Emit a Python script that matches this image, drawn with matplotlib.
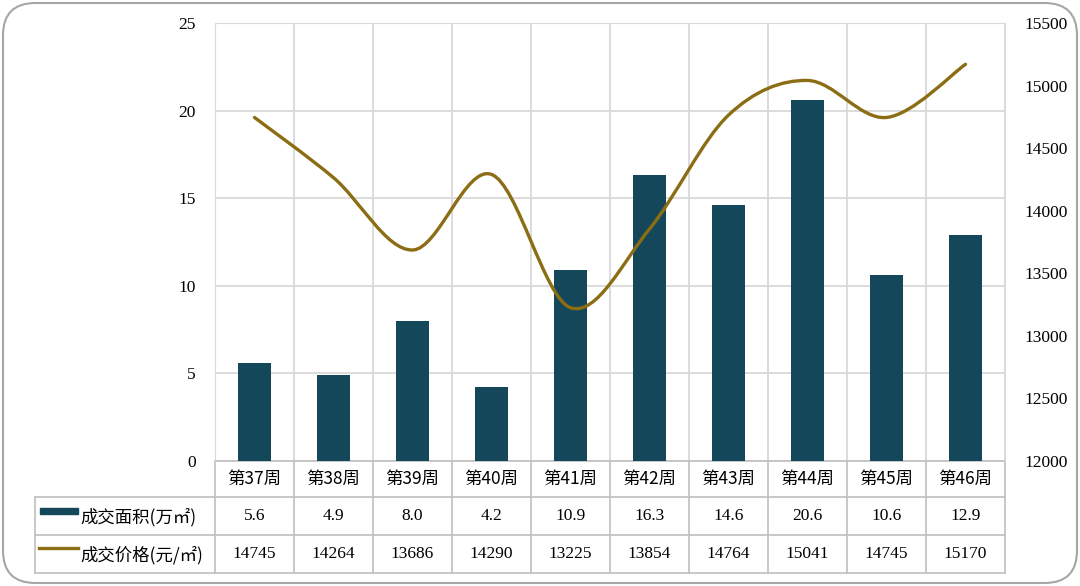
import matplotlib
matplotlib.use("Agg")
import matplotlib.pyplot as plt
import numpy as np
from matplotlib.path import Path
from matplotlib.patches import PathPatch, FancyBboxPatch, Rectangle
from matplotlib.lines import Line2D

plt.rcParams['font.family'] = ['Liberation Serif', 'Noto Sans CJK SC', 'DejaVu Sans']
CJK = ['Noto Sans CJK SC', 'Liberation Serif', 'DejaVu Sans']

categories = ["第37周", "第38周", "第39周", "第40周", "第41周", "第42周", "第43周", "第44周", "第45周", "第46周"]
area = [5.6, 4.9, 8.0, 4.2, 10.9, 16.3, 14.6, 20.6, 10.6, 12.9]
price = [14745, 14264, 13686, 14290, 13225, 13854, 14764, 15041, 14745, 15170]
area_labels = ["5.6", "4.9", "8.0", "4.2", "10.9", "16.3", "14.6", "20.6", "10.6", "12.9"]
series_names = ["成交面积(万㎡)", "成交价格(元/㎡)"]

bar_color = "#14475a"
line_color = "#8b6d14"
grid_color = "#d9d9d9"
table_color = "#bfbfbf"

W, H = 1080, 586
fig = plt.figure(figsize=(W / 100, H / 100), dpi=100)

# rounded outer frame
frame = FancyBboxPatch((3 / W, 3 / H), (W - 6) / W, (H - 6) / H,
                       boxstyle="round,pad=0,rounding_size=0.03",
                       transform=fig.transFigure, fill=False,
                       edgecolor="#a6a6a6", linewidth=1.5, mutation_aspect=W / H)
fig.patches.append(frame)

L, R, T, B = 215, 1005, 23, 461
ax = fig.add_axes([L / W, 1 - B / H, (R - L) / W, (B - T) / H])
ax2 = ax.twinx()

n = len(categories)
x = np.arange(n)
ax.bar(x, area, width=0.41, color=bar_color, zorder=3)
ax.set_xlim(-0.5, n - 0.5)
ax.set_ylim(0, 25)
ax.set_xticks([])
ax.set_yticks(np.arange(0, 26, 5))
ax.yaxis.grid(True, color=grid_color, linewidth=1.3, zorder=0)
for b in np.arange(-0.5, n, 1.0):
    ax.axvline(b, color=grid_color, linewidth=1.3, zorder=0)
ax.tick_params(axis='y', length=0, pad=14, labelsize=12.5)
for s in ax.spines.values():
    s.set_color(grid_color)
ax.spines['bottom'].set_visible(False)

# smooth (Excel-like) line on secondary axis
ax2.set_ylim(12000, 15500)
ax2.set_yticks(np.arange(12000, 15501, 500))
ax2.tick_params(axis='y', length=0, pad=14, labelsize=12.5)
for s in ax2.spines.values():
    s.set_visible(False)
pts = np.column_stack([x, np.array(price, dtype=float)])
verts = [pts[0]]
codes = [Path.MOVETO]
for i in range(n - 1):
    p0 = pts[i - 1] if i > 0 else pts[i]
    p1 = pts[i]
    p2 = pts[i + 1]
    p3 = pts[i + 2] if i + 2 < n else pts[i + 1]
    c1 = p1 + (p2 - p0) / 6
    c2 = p2 - (p3 - p1) / 6
    verts += [c1, c2, p2]
    codes += [Path.CURVE4] * 3
ax2.add_patch(PathPatch(Path(verts, codes), facecolor='none', edgecolor=line_color,
                        linewidth=2.4, zorder=4, capstyle='round'))
ax.set_zorder(ax2.get_zorder() - 1)
ax.patch.set_visible(True)
ax2.patch.set_visible(False)

# data table below the plot
def ay(py):
    return (B - py) / (B - T)

def axx(px):
    return (px - L) / (R - L)

rows = [461, 497, 535, 573]
tl = 35
line_kw = dict(transform=ax.transAxes, color=table_color, linewidth=1.2, clip_on=False)
ax.add_line(Line2D([0, 1], [ay(rows[0])] * 2, **line_kw))
for r in rows[1:]:
    ax.add_line(Line2D([axx(tl), 1], [ay(r)] * 2, **line_kw))
ax.add_line(Line2D([axx(tl)] * 2, [ay(rows[1]), ay(rows[3])], **line_kw))
for i in range(n + 1):
    xf = i / n
    ax.add_line(Line2D([xf, xf], [ay(rows[0]), ay(rows[3])], **line_kw))

tr = ax.get_xaxis_transform()
for i, c in enumerate(categories):
    ax.text(i, ay((rows[0] + rows[1]) / 2), c, transform=tr, ha='center', va='center',
            fontsize=12.5, family=CJK, clip_on=False)
    ax.text(i, ay((rows[1] + rows[2]) / 2), area_labels[i], transform=tr, ha='center',
            va='center', fontsize=12.5, clip_on=False)
    ax.text(i, ay((rows[2] + rows[3]) / 2), str(price[i]), transform=tr, ha='center',
            va='center', fontsize=12.5, clip_on=False)

# legend keys in table
ax.add_patch(Rectangle((axx(40), ay(514)), axx(78) - axx(40), ay(508) - ay(514),
                       transform=ax.transAxes, color=bar_color, clip_on=False))
ax.add_line(Line2D([axx(39), axx(78)], [ay(548)] * 2, transform=ax.transAxes,
                   color=line_color, linewidth=2.4, clip_on=False))
ax.text(axx(80), ay((rows[1] + rows[2]) / 2 + 1), series_names[0], transform=ax.transAxes,
        ha='left', va='center', fontsize=12.5, family=CJK, clip_on=False)
ax.text(axx(80), ay((rows[2] + rows[3]) / 2 + 1), series_names[1], transform=ax.transAxes,
        ha='left', va='center', fontsize=12.5, family=CJK, clip_on=False)

fig.savefig("out.png", dpi=100)
